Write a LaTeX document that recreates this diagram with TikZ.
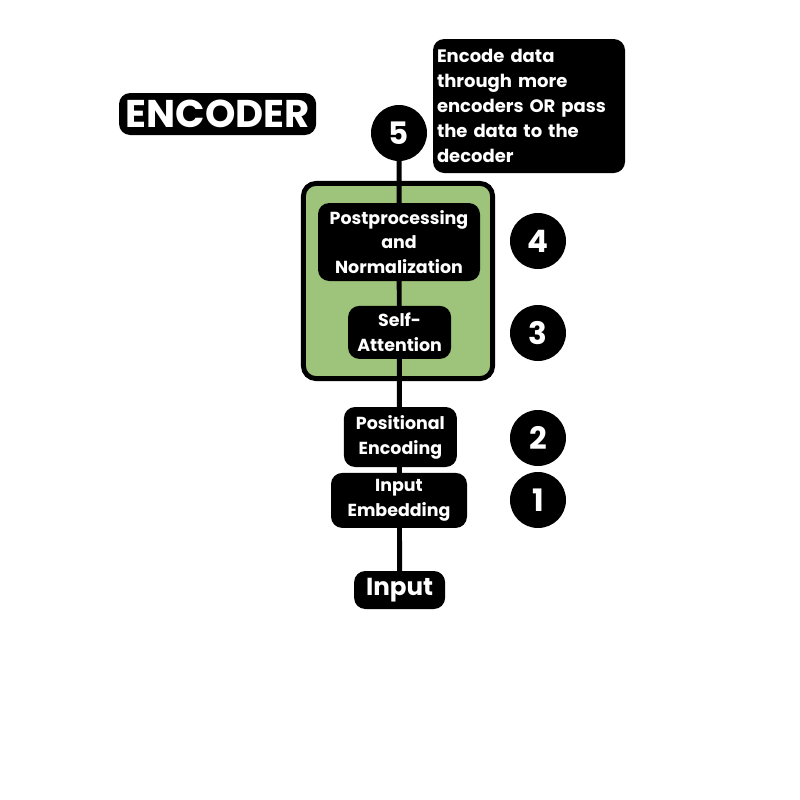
\documentclass[tikz,border=0pt]{standalone}
\usepackage{fontspec}
\setmainfont{Poppins}[BoldFont={* Bold}]
\usepackage{tikz}
\usetikzlibrary{positioning,backgrounds}
\definecolor{layergreen}{RGB}{157,196,122}
\tikzset{
  block/.style={rectangle, rounded corners=8pt, fill=black, text=white,
                align=center, font=\bfseries\fontsize{12.4}{17.7}\selectfont, inner sep=2pt},
  step num/.style={circle, fill=black, text=white, minimum size=1.4cm, inner sep=0pt,
                   font=\bfseries\fontsize{22}{22}\selectfont},
  layer/.style={rectangle, rounded corners=9pt, draw=black, line width=3.5pt, fill=layergreen},
  flow/.style={line width=3.5pt, black},
}

\begin{document}
\begin{tikzpicture}
  \useasboundingbox (0,0) rectangle (20,-20);
  \node[block, minimum width=4.93cm, minimum height=1.05cm,
        font=\bfseries\fontsize{27.5}{27.5}\selectfont] (title) at (5.44,-2.85) {ENCODER};
  \node[step num] (n5) at (9.975,-3.325) {5};
  \node[block, minimum width=4.8cm, minimum height=3.35cm, text width=4.6cm, align=left,
        font=\bfseries\fontsize{12.8}{17.7}\selectfont] (note) at (13.225,-2.65)
        {Encode data\\through more\\encoders OR pass\\the data to the\\decoder};
  % encoder layer
  \node[block, minimum width=4.05cm, minimum height=1.95cm] (post) at (9.975,-6.05)
        {Postprocessing\\and\\Normalization};
  \node[block, minimum width=2.575cm, minimum height=1.325cm] (attn) at (9.99,-8.31)
        {Self-\\Attention};
  \node[block, minimum width=2.825cm, minimum height=1.5cm] (pos) at (10.01,-10.925)
        {Positional\\Encoding};
  \node[block, minimum width=3.4cm, minimum height=1.375cm] (emb) at (9.975,-12.51)
        {Input\\Embedding};
  \node[block, minimum width=2.275cm, minimum height=0.95cm,
        font=\bfseries\fontsize{17.5}{17.5}\selectfont] (input) at (9.99,-14.75) {Input};
  \node[step num] (n4) at (13.45,-6.025) {4};
  \node[step num] (n3) at (13.45,-8.325) {3};
  \node[step num] (n2) at (13.45,-10.95) {2};
  \node[step num] (n1) at (13.45,-12.5) {1};
  \begin{scope}[on background layer]
    \node[layer, minimum width=4.73cm, minimum height=4.88cm] (enc) at (9.95,-7.025) {};
    \draw[flow] (n5.center) -- (input.center);
  \end{scope}
\end{tikzpicture}
\end{document}
